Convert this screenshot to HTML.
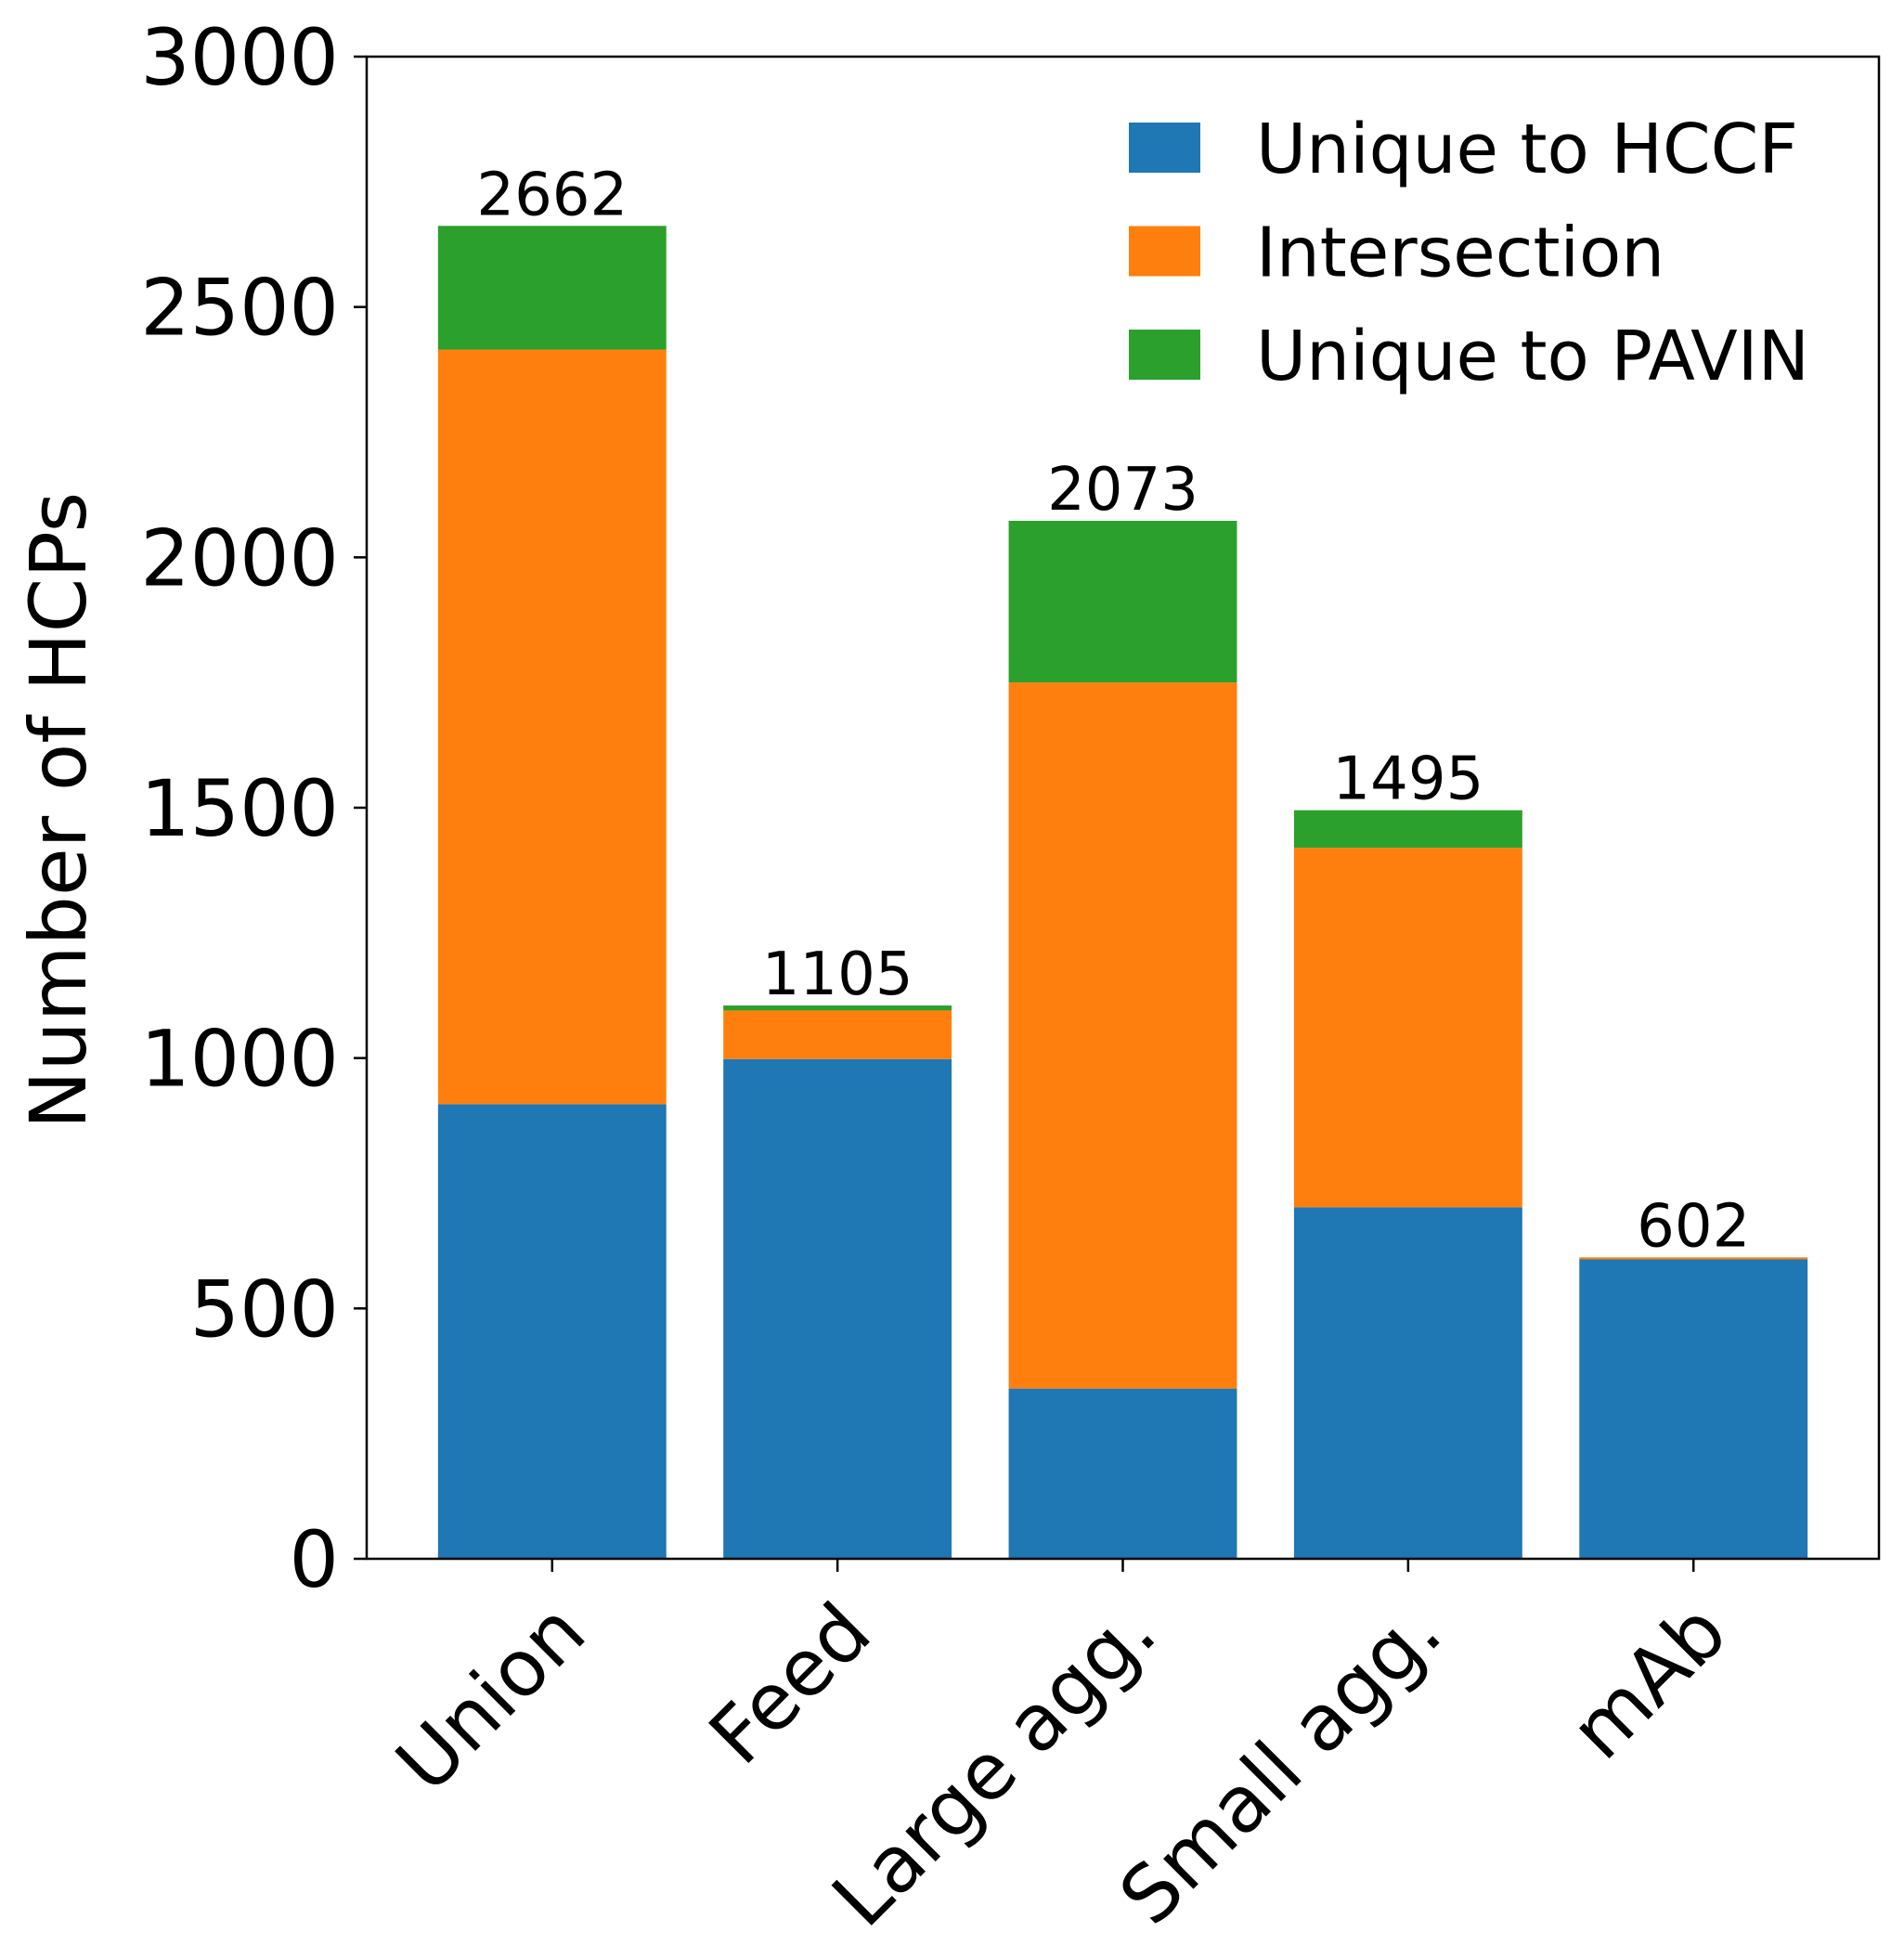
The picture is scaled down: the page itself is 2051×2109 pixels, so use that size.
<!DOCTYPE html>
<html><head><meta charset="utf-8"><style>body{margin:0;background:#fff}svg{display:block}text{font-family:"DejaVu Sans","Liberation Sans",sans-serif;fill:#000}</style></head>
<body>
<svg id="chart" width="2051" height="2109"></svg>
<script>
const categories = ["Union","Feed","Large agg.","Small agg.","mAb"];
const uniqueHCCF = [908, 998, 340, 702, 598];
const intersection = [1507, 97, 1410, 718, 4];
const uniquePAVIN = [247, 10, 323, 75, 0];
const totals = [2662, 1105, 2073, 1495, 602];
const yTicks = [0, 500, 1000, 1500, 2000, 2500, 3000];
const seriesNames = ["Unique to HCCF","Intersection","Unique to PAVIN"];
const colors = ["#1f77b4","#ff7f0e","#2ca02c"];

const NS = "http://www.w3.org/2000/svg";
const svg = document.getElementById("chart");
const L = 395, R = 2024, T = 61, B = 1679;
const yMax = 3000;
const y = v => B - (v / yMax) * (B - T);
const step = (R - L) / (categories.length + 0.3);
const xc = i => L + step * 0.65 + i * step;
const bw = step * 0.8;
function el(tag, attrs, parent) {
  const e = document.createElementNS(NS, tag);
  for (const k in attrs) e.setAttribute(k, attrs[k]);
  (parent || svg).appendChild(e);
  return e;
}
const series = [uniqueHCCF, intersection, uniquePAVIN];
categories.forEach((c, i) => {
  let base = 0;
  series.forEach((s, k) => {
    const r = el("rect", {x: xc(i) - bw / 2, y: y(base + s[i]), width: bw, height: y(base) - y(base + s[i]), fill: colors[k]});
    
    
    base += s[i];
  });
  const t = el("text", {x: xc(i), y: y(totals[i]) - 12, "font-size": 64, "text-anchor": "middle"});
  t.textContent = totals[i];
  
  
  const tk = el("line", {x1: xc(i), x2: xc(i), y1: B, y2: B + 14, stroke: "#000", "stroke-width": 2.5});
  
  
  const lx = xc(i) - 4, ly = B + 40;
  const xl = el("text", {x: lx, y: ly, "font-size": 84, "text-anchor": "end", "dominant-baseline": "hanging", transform: `rotate(-45 ${lx} ${ly})`});
  xl.textContent = c;
  
  
});
yTicks.forEach(v => {
  const tk = el("line", {x1: L - 14, x2: L, y1: y(v), y2: y(v), stroke: "#000", "stroke-width": 2.5});
  
  
  const t = el("text", {x: L - 30, y: y(v) + 30, "font-size": 84, "text-anchor": "end"});
  t.textContent = v;
  
  
});
const frame = el("rect", {x: L, y: T, width: R - L, height: B - T, fill: "none", stroke: "#000", "stroke-width": 2.5});


const yl = el("text", {x: 0, y: 0, "font-size": 84, "text-anchor": "middle", transform: "translate(92 873) rotate(-90)"});
yl.textContent = "Number of HCPs";


seriesNames.forEach((n, k) => {
  const cy = 159 + k * 111.5;
  const p = el("rect", {x: 1216, y: cy - 27, width: 77, height: 54, fill: colors[k]});
  
  
  const t = el("text", {x: 1353, y: cy + 27, "font-size": 74});
  t.textContent = n;
  
  
});
</script>
</body></html>
